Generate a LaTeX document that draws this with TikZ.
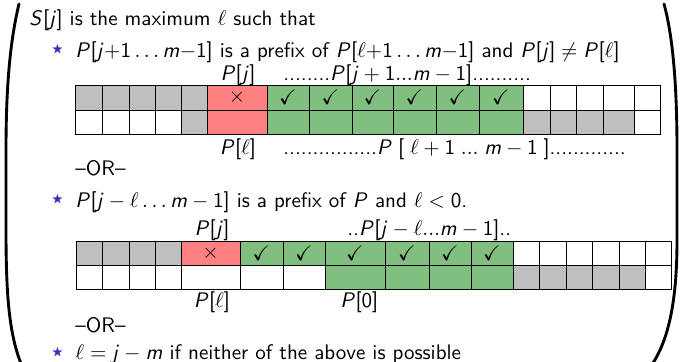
\documentclass[tikz,border=0pt]{standalone}
\usepackage{amsmath, amssymb}
\usepackage{tikz}
\renewcommand{\familydefault}{\sfdefault}
% sans letters and digits in math, as on the slide
\DeclareSymbolFont{sfletters}{OT1}{cmss}{m}{sl}
\SetSymbolFont{operators}{normal}{OT1}{cmss}{m}{n}
\DeclareMathSymbol{S}{\mathalpha}{sfletters}{`S}
\DeclareMathSymbol{P}{\mathalpha}{sfletters}{`P}
\DeclareMathSymbol{j}{\mathalpha}{sfletters}{`j}
\DeclareMathSymbol{m}{\mathalpha}{sfletters}{`m}
\definecolor{cellgrey}{RGB}{191,191,191}
\definecolor{cellred}{RGB}{255,128,128}
\definecolor{cellgreen}{RGB}{128,191,128}
\definecolor{starblue}{RGB}{51,51,179}
\tikzset{
  cell/.style={draw=black, line width=0.4pt},
  txt/.style={anchor=base west, inner sep=0pt},
  lbl/.style={anchor=base, inner sep=0pt},
  bullet/.style={inner sep=0pt, text=starblue, font=\fontsize{6}{7}\selectfont},
  paren/.style={line width=1.5pt, line cap=round},
}

\begin{document}
\begin{tikzpicture}[x=0.52pt, y=-0.52pt, every node/.style={font=\fontsize{10.95}{13.6}\selectfont}]
  \useasboundingbox (0,0) rectangle (680,361);

  % big parentheses
  \draw[paren] (19,4) .. controls (9,45) and (6,95) .. (6,150) -- (6,230) .. controls (6,295) and (9,335) .. (22,366);
  \draw[paren] (664,4) .. controls (674,40) and (677,95) .. (677,150) -- (677,240) .. controls (677,300) and (669,340) .. (651,366);

  % text lines
  \node[txt] (head) at (29,25) {$S[j]$ is the maximum $\ell$ such that};
  \node[bullet] (star1) at (57.5,50) {$\bigstar$};
  \node[txt] (case1) at (75,57) {$P[j{+}1\ldots m{-}1]$ is a prefix of $P[\ell{+}1\ldots m{-}1]$ and $P[j]\neq P[\ell]$};
  \node[txt] (or1) at (75,175) {--OR--};
  \node[bullet] (star2) at (57.5,200) {$\bigstar$};
  \node[txt] (case2) at (75,207) {$P[j-\ell\ldots m-1]$ is a prefix of $P$ and $\ell<0$.};
  \node[txt] (or2) at (75,332) {--OR--};
  \node[bullet] (star3) at (57.5,353) {$\bigstar$};
  \node[txt] (case3) at (75,359.5) {$\ell=j-m$ if neither of the above is possible};

  % first shift
  \foreach \xa/\xb/\ca/\cb in {75/102/cellgrey/white, 102/129/cellgrey/white, 129/155/cellgrey/white,
      155/181/cellgrey/white, 181/207/cellgrey/cellgrey, 207/267/cellred/cellred,
      267/309/cellgreen/cellgreen, 309/352/cellgreen/cellgreen, 352/393/cellgreen/cellgreen,
      393/436/cellgreen/cellgreen, 436/479/cellgreen/cellgreen, 479/523/cellgreen/cellgreen,
      523/550/white/cellgrey, 550/576/white/cellgrey, 576/603/white/cellgrey,
      603/634/white/cellgrey, 634/660/white/white}
  {
    \draw[cell, fill=\ca] (\xa,85) rectangle (\xb,110);
    \draw[cell, fill=\cb] (\xa,110) rectangle (\xb,134);
  }
  \node (miss1) at (237,97.5) {$\times$};
  \foreach \xa/\xb in {267/309, 309/352, 352/393, 393/436, 436/479, 479/523}
    \node (hit1-\xa) at ({(\xa+\xb)/2},97.5) {$\checkmark$};
  \node[lbl] (pj1) at (238,80) {$P[j]$};
  \node[txt] (suf1) at (283,80) {........$P[j+1...m-1]$..........};
  \node[lbl] (pl1) at (238,154) {$P[\ell]$};
  \node[txt] (pre1) at (283,154) {................$P\;[\;\ell+1\;...\;m-1\;]$.............};

  % second shift
  \foreach \xa/\xb/\ca/\cb in {76/102/cellgrey/white, 102/129/cellgrey/white, 129/155/cellgrey/white,
      155/181/cellgrey/white, 181/240/cellred/white, 240/283/cellgreen/white,
      283/325/cellgreen/white, 325/385/cellgreen/cellgreen, 385/429/cellgreen/cellgreen,
      429/471/cellgreen/cellgreen, 471/513/cellgreen/cellgreen, 513/539/white/cellgrey,
      539/566/white/cellgrey, 566/592/white/cellgrey, 592/619/white/cellgrey,
      619/645/white/cellgrey, 645/671/white/white}
  {
    \draw[cell, fill=\ca] (\xa,241) rectangle (\xb,265);
    \draw[cell, fill=\cb] (\xa,265) rectangle (\xb,289);
  }
  \node (miss2) at (210.5,253) {$\times$};
  \foreach \xa/\xb in {240/283, 283/325, 325/385, 385/429, 429/471, 471/513}
    \node (hit2-\xa) at ({(\xa+\xb)/2},253) {$\checkmark$};
  \node[lbl] (pj2) at (212,235) {$P[j]$};
  \node[txt] (suf2) at (347,235) {..$P[j-\ell...m-1]$..};
  \node[lbl] (pl2) at (212,307) {$P[\ell]$};
  \node[txt] (p0) at (340,307) {$P[0]$};
\end{tikzpicture}
\end{document}
